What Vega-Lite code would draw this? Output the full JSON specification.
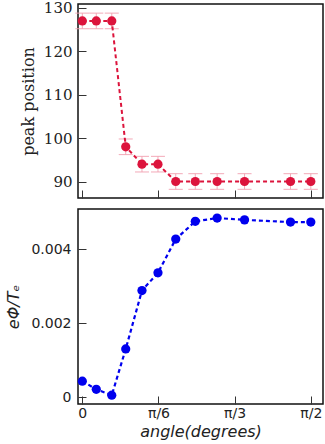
{
  "$schema": "https://vega.github.io/schema/vega-lite/v6.json",
  "padding": {"left": 5, "top": 0, "right": 1, "bottom": 0},
  "spacing": 8,
  "data": {"values": [
    {"angle": 0, "peak": 127, "err": 1.8, "phi": 0.00043},
    {"angle": 5.5, "peak": 127, "err": 1.8, "phi": 0.00021},
    {"angle": 11.6, "peak": 127, "err": 1.8, "phi": 0.00005},
    {"angle": 17.1, "peak": 98, "err": 1.8, "phi": 0.0013},
    {"angle": 23.5, "peak": 94, "err": 1.8, "phi": 0.00288},
    {"angle": 29.8, "peak": 94, "err": 1.8, "phi": 0.00336},
    {"angle": 36.8, "peak": 90, "err": 1.8, "phi": 0.00427},
    {"angle": 44.5, "peak": 90, "err": 1.8, "phi": 0.00475},
    {"angle": 53.1, "peak": 90, "err": 1.8, "phi": 0.00484},
    {"angle": 63.9, "peak": 90, "err": 1.8, "phi": 0.00479},
    {"angle": 82, "peak": 90, "err": 1.8, "phi": 0.00473},
    {"angle": 90, "peak": 90, "err": 1.8, "phi": 0.00473}
  ]},
  "vconcat": [
    {
      "width": 245,
      "height": 194,
      "encoding": {
        "x": {"field": "angle", "type": "quantitative", "scale": {"domain": [-1.7, 94.8], "nice": false, "zero": false},
          "axis": {"values": [0, 30, 60, 90], "labels": false, "title": null, "domain": false, "grid": false, "tickSize": -8, "tickColor": "#333", "tickWidth": 1}},
        "y": {"field": "peak", "type": "quantitative", "title": "peak position", "scale": {"domain": [86.2, 130.9], "nice": false, "zero": false},
          "axis": {"values": [90, 100, 110, 120, 130], "title": "peak position", "domain": false, "grid": false, "tickSize": -8, "tickColor": "#333", "tickWidth": 1,
            "labelFont": "DejaVu Serif", "labelFontSize": 15, "labelColor": "#222", "labelPadding": 14,
            "titleFont": "DejaVu Serif", "titleFontSize": 16, "titleFontWeight": "normal", "titleColor": "#222", "titlePadding": 7}}
      },
      "layer": [
        {
          "mark": {"type": "errorbar", "ticks": {"size": 14, "strokeDash": [4, 2]}, "color": "#f2a0b0", "opacity": 0.9},
          "encoding": {
            "yError": {"field": "err"}
          }
        },
        {
          "mark": {"type": "line", "color": "crimson", "strokeDash": [4, 3], "strokeWidth": 2}
        },
        {
          "mark": {"type": "circle", "color": "crimson", "opacity": 1, "size": 85}
        }
      ]
    },
    {
      "width": 245,
      "height": 195,
      "encoding": {
        "x": {"field": "angle", "type": "quantitative", "scale": {"domain": [-1.7, 94.8], "nice": false, "zero": false},
          "axis": {"values": [0, 30, 60, 90], "labelExpr": "datum.value == 0 ? '0' : datum.value == 30 ? 'π/6' : datum.value == 60 ? 'π/3' : 'π/2'",
            "title": "angle(degrees)", "domain": false, "grid": false, "tickSize": -8, "tickColor": "#333", "tickWidth": 1,
            "labelFont": "DejaVu Sans", "labelFontSize": 14, "labelColor": "#222", "labelPadding": 10,
            "titleFont": "DejaVu Sans", "titleFontSize": 16, "titleFontStyle": "italic", "titleFontWeight": "normal", "titleColor": "#222", "titlePadding": 3}},
        "y": {"field": "phi", "type": "quantitative", "scale": {"domain": [-0.000188, 0.005084], "nice": false, "zero": false},
          "axis": {"values": [0, 0.002, 0.004], "labelExpr": "datum.value == 0 ? '0' : format(datum.value, '.3f')", "title": "eΦ/Tₑ", "domain": false, "grid": false, "tickSize": -8, "tickColor": "#333", "tickWidth": 1,
            "labelFont": "DejaVu Sans", "labelFontSize": 14, "labelColor": "#222", "labelPadding": 15,
            "titleFont": "DejaVu Sans", "titleFontSize": 16, "titleFontStyle": "italic", "titleFontWeight": "normal", "titleColor": "#222", "titlePadding": 9}}
      },
      "layer": [
        {"mark": {"type": "line", "color": "#0000ee", "strokeDash": [4, 3], "strokeWidth": 2.2}},
        {"mark": {"type": "circle", "color": "#0000ee", "opacity": 1, "size": 85}}
      ]
    }
  ],
  "config": {
    "view": {"stroke": "#111", "strokeWidth": 1.5}
  }
}
